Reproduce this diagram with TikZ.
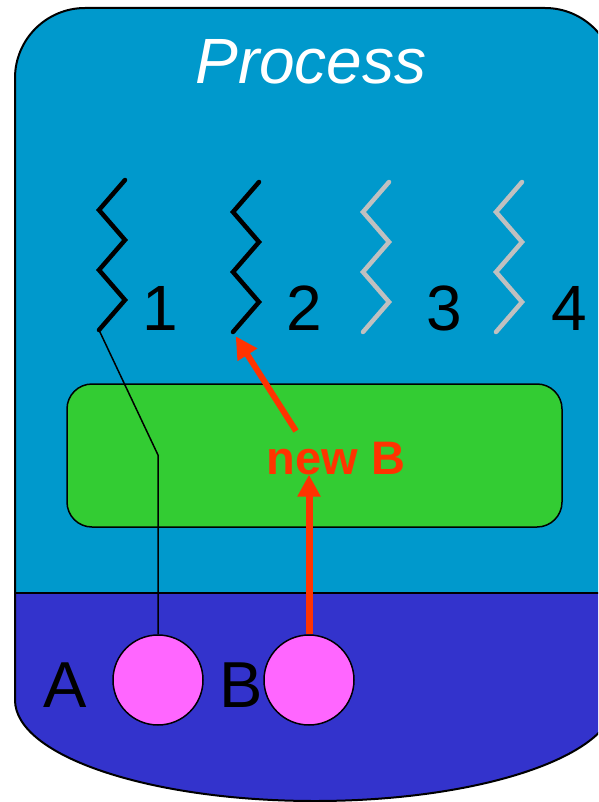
\documentclass[tikz,border=0pt]{standalone}
\usepackage{fontspec}
\setmainfont{Liberation Sans}
\usepackage{xcolor}
\usepackage{tikz}
\usetikzlibrary{arrows.meta,positioning,calc}

\definecolor{procblue}{RGB}{0,153,204}
\definecolor{kernblue}{RGB}{51,51,204}
\definecolor{boxgreen}{RGB}{51,204,51}
\definecolor{objpink}{RGB}{255,102,255}
\definecolor{newred}{RGB}{255,51,0}
\definecolor{idlegray}{RGB}{192,192,192}

\newcommand{\procoutline}{(15,700) -- (15,78) .. controls (15,39.4) and (46.4,8) .. (85,8) -- (545,8) .. controls (583.6,8) and (615,39.4) .. (615,78) -- (615,700) .. controls (615,755.8) and (480.6,801) .. (315,801) .. controls (149.4,801) and (15,755.8) .. (15,700) -- cycle}

\begin{document}
\begin{tikzpicture}[x=1pt, y=-1pt,
		thread/.style={line width=4.5pt, line cap=round, line join=miter, draw=black},
		idle/.style={thread, draw=idlegray},
		obj/.style={draw, circle, fill=objpink, minimum size=90pt, inner sep=0pt, line width=1.5pt},
		big/.style={font=\fontsize{64}{70}\selectfont, inner sep=0pt, anchor=base},
		newarrow/.style={draw=newred, -{Triangle[length=22pt,width=22pt]}}]
		\useasboundingbox (0,0) rectangle (598,802);
		\clip (0,0) rectangle (598,802);

		% process body
		\begin{scope}
			\clip \procoutline;
			\fill[procblue] (0,0) rectangle (640,593);
			\fill[kernblue] (0,593) rectangle (640,810);
		\end{scope}
		\draw[line width=2pt] \procoutline;
		\draw[line width=2pt] (15,593) -- (615,593);

		\node[big, text=white, font=\fontsize{64}{70}\selectfont\itshape] (title) at (311,84) {Process};

		% threads
		\draw[thread] (125,180) -- ++(-26,30) -- ++(26,30) -- ++(-26,30) -- ++(26,30) -- ++(-26,30) coordinate (t1);
		\draw[thread] (259,182) -- ++(-26,30) -- ++(26,30) -- ++(-26,30) -- ++(26,30) -- ++(-26,30) coordinate (t2);
		\draw[idle] (389,182) -- ++(-26,30) -- ++(26,30) -- ++(-26,30) -- ++(26,30) -- ++(-26,30) coordinate (t3);
		\draw[idle] (522,182) -- ++(-26,30) -- ++(26,30) -- ++(-26,30) -- ++(26,30) -- ++(-26,30) coordinate (t4);

		\node[big] (n1) at (160,330) {1};
		\node[big] (n2) at (304,330) {2};
		\node[big] (n3) at (444,330) {3};
		\node[big] (n4) at (569,330) {4};

		% code box
		\node[draw, rounded corners=25pt, fill=boxgreen, line width=1.5pt, minimum width=495pt, minimum height=143pt] (code) at (314.5,455.5) {};
		\node[text=newred, font=\fontsize{47}{52}\selectfont\bfseries, inner sep=0pt, anchor=base] (newb) at (336,474) {new B};

		% objects
		\node[obj] (a) at (158,680) {};
		\node[obj] (b) at (309,680) {};
		\node[font=\fontsize{65}{70}\selectfont, inner sep=0pt, anchor=base] (la) at (65,707) {A};
		\node[font=\fontsize{65}{70}\selectfont, inner sep=0pt, anchor=base] (lb) at (241,707) {B};

		\coordinate (kink) at (158,455);
		\draw[line width=1.5pt] (t1) -- (kink) -- (a.north);

		\coordinate (fork) at (296,431);
		\draw[newarrow, line width=6pt] (fork) -- ($(t2)!5pt!(fork)$);
		\draw[newarrow, line width=7pt] (b.north) -- (b.north |- newb.south);
	\end{tikzpicture}
\end{document}
